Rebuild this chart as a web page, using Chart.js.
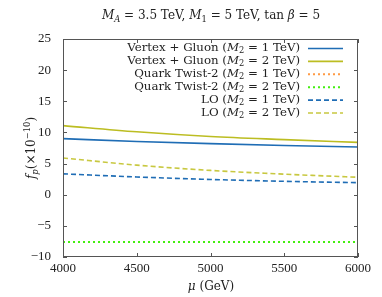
<!DOCTYPE html>
<html>
<head>
<meta charset="utf-8">
<script src="https://cdn.jsdelivr.net/npm/chart.js@4.4.1/dist/chart.umd.min.js"></script>
<style>
  body { margin: 0; background: #fff; }
  #wrap { width: 382px; height: 297px; position: relative; }
</style>
</head>
<body>
<div id="wrap"><canvas id="myChart"></canvas></div>
<script>
// values
var mu = [4000, 4500, 5000, 5500, 6000];
var vgM1 = [9.0, 8.55, 8.2, 7.9, 7.65];
var vgM2 = [11.1, 10.1, 9.35, 8.85, 8.4];
var twistM1 = [-7.6, -7.6, -7.6, -7.6, -7.6];
var twistM2 = [-7.6, -7.6, -7.6, -7.6, -7.6];
var loM1 = [3.35, 2.85, 2.45, 2.15, 1.93];
var loM2 = [5.9, 4.75, 3.9, 3.3, 2.8];
var xTicks = [4000, 4500, 5000, 5500, 6000];
var yTicks = [-10, -5, 0, 5, 10, 15, 20, 25];

var FONT = '"DejaVu Serif", "Liberation Serif", serif';
var TICKFONT = '"Liberation Serif", serif';

function pts(arr) {
    return arr.map(function (v, i) { return { x: mu[i], y: v }; });
}

// draw text made of pieces: plain, italic, subscript, superscript
function richWidth(ctx, segs, size) {
    var w = 0;
    segs.forEach(function (s) {
        var sz = (s.sub || s.sup) ? size * 0.7 : size;
        ctx.font = (s.it ? 'italic ' : '') + sz + 'px ' + FONT;
        w += ctx.measureText(s.t).width;
    });
    return w;
}
function drawRich(ctx, segs, x, y, size, align) {
    var w = richWidth(ctx, segs, size);
    var cx = align === 'right' ? x - w : (align === 'center' ? x - w / 2 : x);
    ctx.textBaseline = 'middle';
    ctx.textAlign = 'left';
    ctx.fillStyle = '#222';
    segs.forEach(function (s) {
        var sz = (s.sub || s.sup) ? size * 0.7 : size;
        ctx.font = (s.it ? 'italic ' : '') + sz + 'px ' + FONT;
        var dy = s.sub ? size * 0.28 : (s.sup ? -size * 0.35 : 0);
        ctx.fillText(s.t, cx, y + dy);
        cx += ctx.measureText(s.t).width;
    });
}

function m2label(name, val) {
    return [{ t: name + ' (' }, { t: 'M', it: true }, { t: '2', sub: true }, { t: ' = ' + val + ' TeV)' }];
}

var series = [
    { label: m2label('Vertex + Gluon', 1), data: vgM1, color: '#1f6db5', dash: [], width: 1.6, order: 2 },
    { label: m2label('Vertex + Gluon', 2), data: vgM2, color: '#bcbd22', dash: [], width: 1.6, order: 3 },
    { label: m2label('Quark Twist-2', 1), data: twistM1, color: '#ff9a45', dash: [2, 3], width: 2, order: 4 },
    { label: m2label('Quark Twist-2', 2), data: twistM2, color: '#44ee11', dash: [2, 3], width: 2, order: 1 },
    { label: m2label('LO', 1), data: loM1, color: '#1f6db5', dash: [5, 3], width: 1.6, order: 5 },
    { label: m2label('LO', 2), data: loM2, color: '#c8c840', dash: [5, 3], width: 1.6, order: 6 }
];

var framePlugin = {
    id: 'frame',
    afterDraw: function (chart) {
        var ctx = chart.ctx;
        var a = chart.chartArea;
        var xs = chart.scales.x, ys = chart.scales.y;
        ctx.save();
        ctx.strokeStyle = '#555';
        ctx.lineWidth = 1;
        ctx.strokeRect(a.left + 0.5, a.top + 0.5, a.right - a.left - 1, a.bottom - a.top - 1);
        ctx.beginPath();
        xTicks.forEach(function (v) {
            var px = Math.round(xs.getPixelForValue(v)) + 0.5;
            ctx.moveTo(px, a.bottom); ctx.lineTo(px, a.bottom - 4);
            ctx.moveTo(px, a.top); ctx.lineTo(px, a.top + 4);
        });
        yTicks.forEach(function (v) {
            var py = Math.round(ys.getPixelForValue(v)) + 0.5;
            ctx.moveTo(a.left, py); ctx.lineTo(a.left + 4, py);
            ctx.moveTo(a.right, py); ctx.lineTo(a.right - 4, py);
        });
        ctx.stroke();

        // legend, text right aligned with the sample line on its right
        series.forEach(function (s, i) {
            var y = 48 + i * 12.9;
            drawRich(ctx, s.label, 300, y, 11.8, 'right');
            ctx.beginPath();
            ctx.strokeStyle = s.color;
            ctx.lineWidth = s.width;
            ctx.setLineDash(s.dash);
            ctx.moveTo(308, y + 0.5); ctx.lineTo(343, y + 0.5);
            ctx.stroke();
        });
        ctx.setLineDash([]);

        // title
        drawRich(ctx, [{ t: 'M', it: true }, { t: 'A', it: true, sub: true }, { t: ' = 3.5 TeV, ' },
            { t: 'M', it: true }, { t: '1', sub: true }, { t: ' = 5 TeV, tan ' }, { t: 'β', it: true }, { t: ' = 5' }],
            211, 16, 12, 'center');
        // x axis title
        drawRich(ctx, [{ t: 'μ', it: true }, { t: ' (GeV)' }], 211, 287, 12, 'center');
        // y axis title
        ctx.translate(32, 148);
        ctx.rotate(-Math.PI / 2);
        drawRich(ctx, [{ t: 'f', it: true }, { t: 'p', it: true, sub: true }, { t: '(×10' }, { t: '−10', sup: true }, { t: ')' }],
            0, 0, 12, 'center');
        ctx.restore();
    }
};

var ctx = document.getElementById('myChart').getContext('2d');

var myChart = new Chart(ctx, {
    type: 'line',
    data: {
        datasets: series.map(function (s) {
            return {
                data: pts(s.data),
                borderColor: s.color,
                borderWidth: s.width,
                borderDash: s.dash,
                order: s.order,
                pointRadius: 0,
                cubicInterpolationMode: 'monotone',
                fill: false
            };
        })
    },
    options: {
        responsive: true,
        maintainAspectRatio: false,
        animation: false,
        plugins: {
            legend: { display: false },
            tooltip: { enabled: false }
        },
        layout: {
            padding: { top: 39, right: 24, left: 0, bottom: 0 }
        },
        scales: {
            x: {
                type: 'linear',
                min: 4000,
                max: 6000,
                afterFit: function (s) { s.height = 40; },
                afterBuildTicks: function (s) { s.ticks = xTicks.map(function (v) { return { value: v }; }); },
                grid: { display: false },
                border: { display: false },
                ticks: {
                    padding: -4,
                    maxRotation: 0,
                    color: '#222',
                    font: { family: TICKFONT, size: 13 },
                    callback: function (v) { return String(v); }
                }
            },
            y: {
                min: -10,
                max: 25,
                afterFit: function (s) { s.width = 63; },
                afterBuildTicks: function (s) { s.ticks = yTicks.map(function (v) { return { value: v }; }); },
                grid: { display: false },
                border: { display: false },
                ticks: {
                    padding: 4,
                    color: '#222',
                    font: { family: TICKFONT, size: 13 },
                    callback: function (v) { return String(v).replace('-', '−'); }
                }
            }
        }
    },
    plugins: [framePlugin]
});
</script>
</body>
</html>
